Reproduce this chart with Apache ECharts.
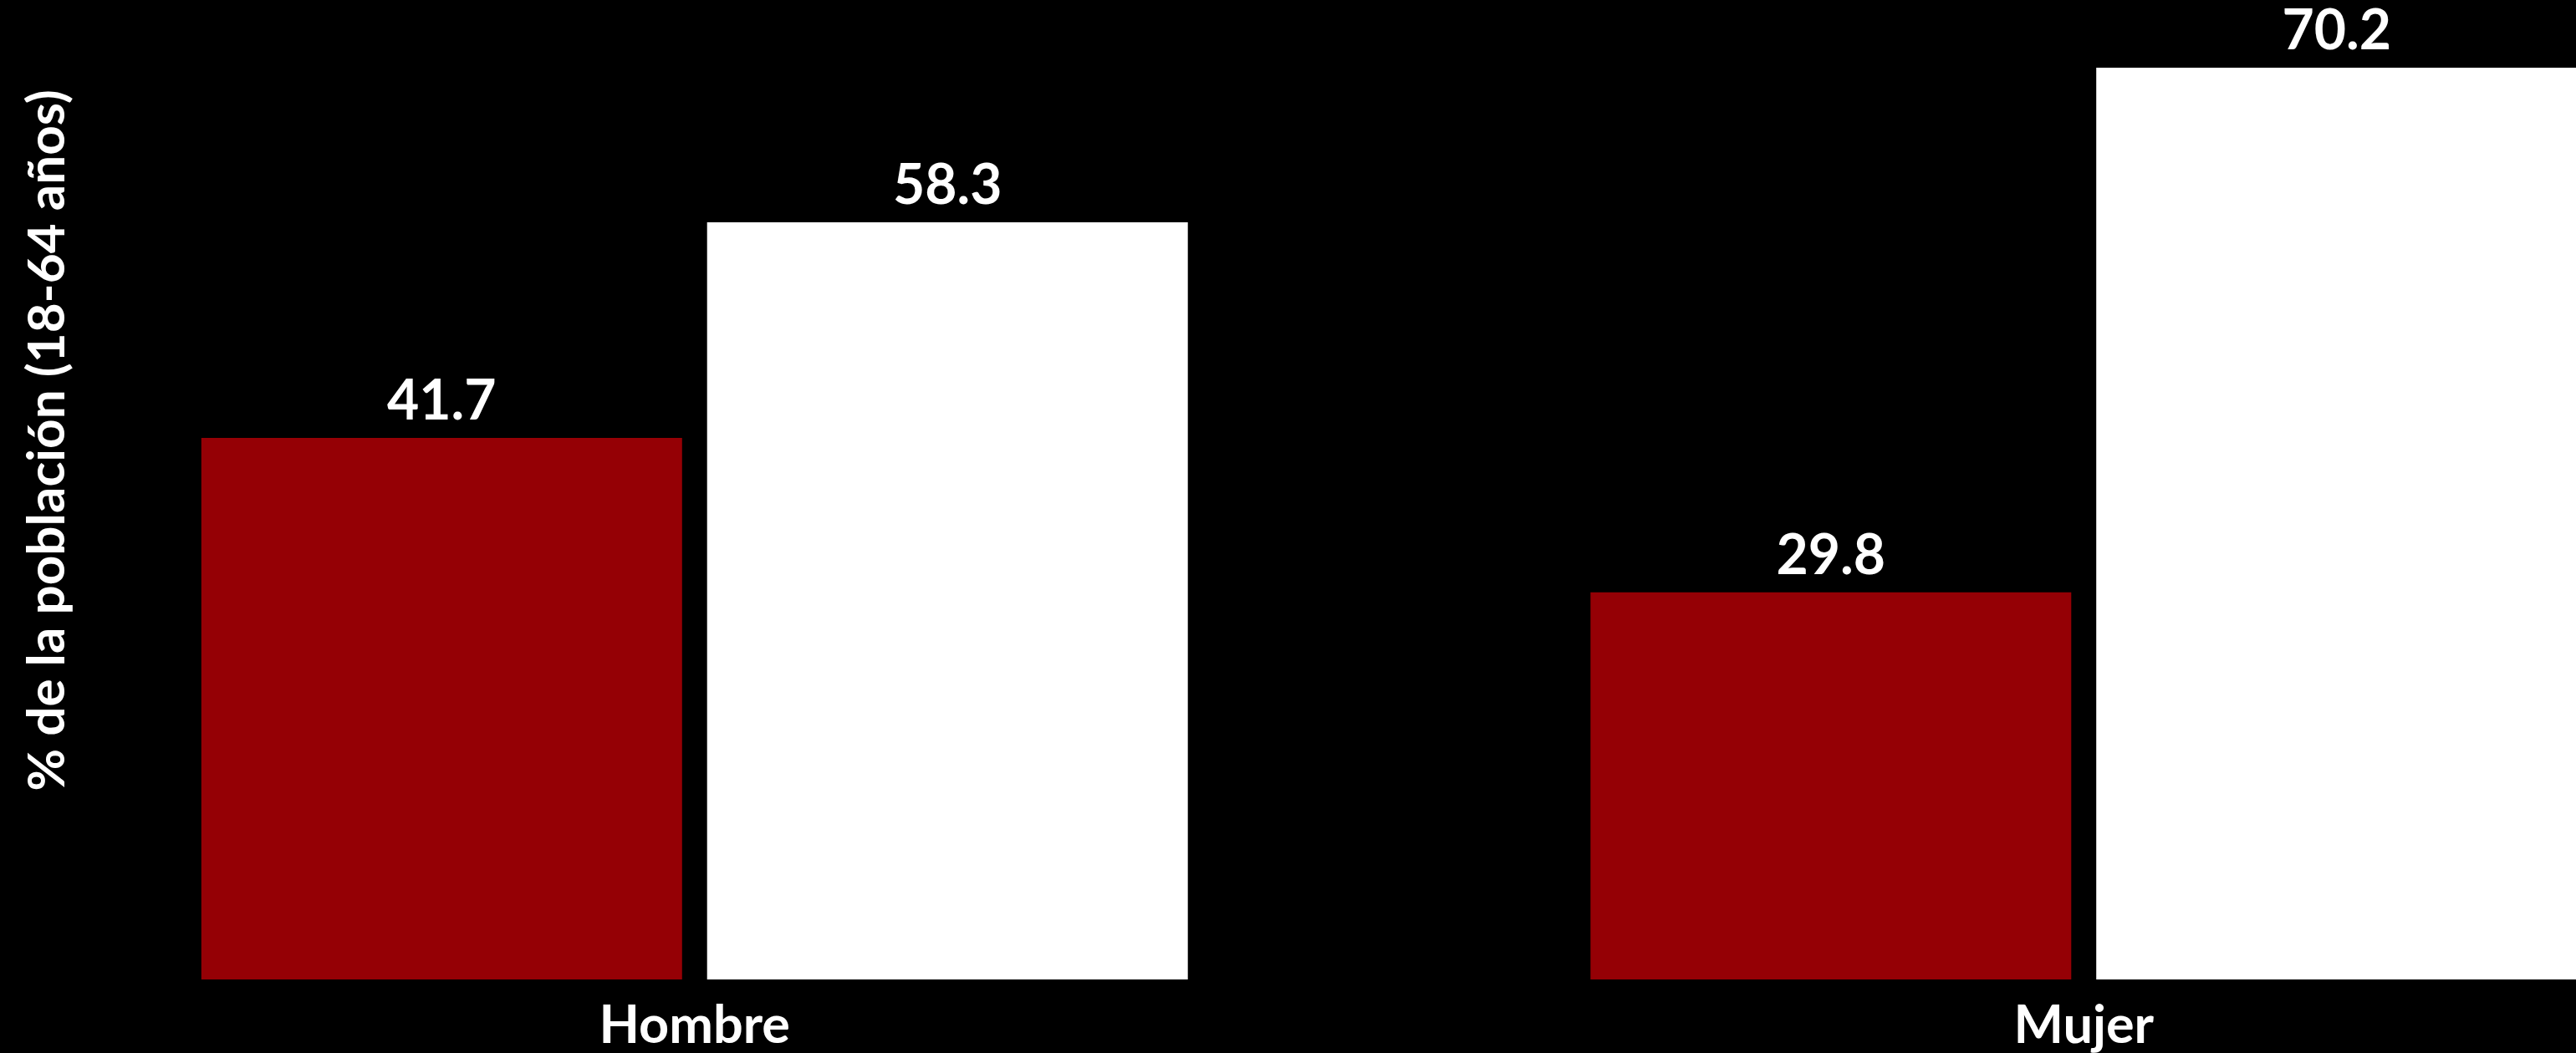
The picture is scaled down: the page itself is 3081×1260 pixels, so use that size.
<!DOCTYPE html>
<html>
<head>
<meta charset="utf-8">
<script src="https://cdn.jsdelivr.net/npm/echarts@6/dist/echarts.min.js"></script>
<style>
html,body{margin:0;padding:0;background:#000;}
#chart{width:3081px;height:1260px;}
</style>
</head>
<body>
<div id="chart"></div>
<script>
const categories = ['Hombre', 'Mujer'];
const seriesRed = [41.7, 29.8];
const seriesWhite = [58.3, 70.2];
const yAxisTitle = '% de la población (18-64 años)';

const FONT = 'Lato';
const chart = echarts.init(document.getElementById('chart'), null, {renderer: 'canvas'});
const labelStyle = {
  show: true,
  position: 'top',
  distance: 10,
  color: '#ffffff',
  fontFamily: FONT,
  fontWeight: 'bold',
  fontSize: 66,
  formatter: p => p.value.toFixed(1)
};
chart.setOption({
  backgroundColor: '#000000',
  animation: false,
  grid: {left: 0, top: -118, width: 3323, height: 1290, containLabel: false, outerBoundsMode: 'none'},
  xAxis: {
    type: 'category',
    data: categories,
    axisLine: {show: false},
    axisTick: {show: false},
    axisLabel: {color: '#ffffff', fontFamily: FONT, fontWeight: 'bold', fontSize: 63, margin: 24},
    splitLine: {show: false}
  },
  yAxis: {
    type: 'value',
    min: 0,
    max: 83,
    offset: -88,
    axisLine: {show: false},
    axisTick: {show: false},
    axisLabel: {show: false},
    splitLine: {show: false},
    name: yAxisTitle,
    nameLocation: 'middle',
    nameGap: 0,
    nameTextStyle: {color: '#ffffff', fontFamily: FONT, fontWeight: 'bold', fontSize: 62}
  },
  series: [
    {type: 'bar', data: seriesRed, barWidth: 575, barGap: '5.2%', itemStyle: {color: '#950005'}, label: labelStyle},
    {type: 'bar', data: seriesWhite, barWidth: 575, barGap: '5.2%', itemStyle: {color: '#ffffff'}, label: labelStyle}
  ]
});
</script>
</body>
</html>
